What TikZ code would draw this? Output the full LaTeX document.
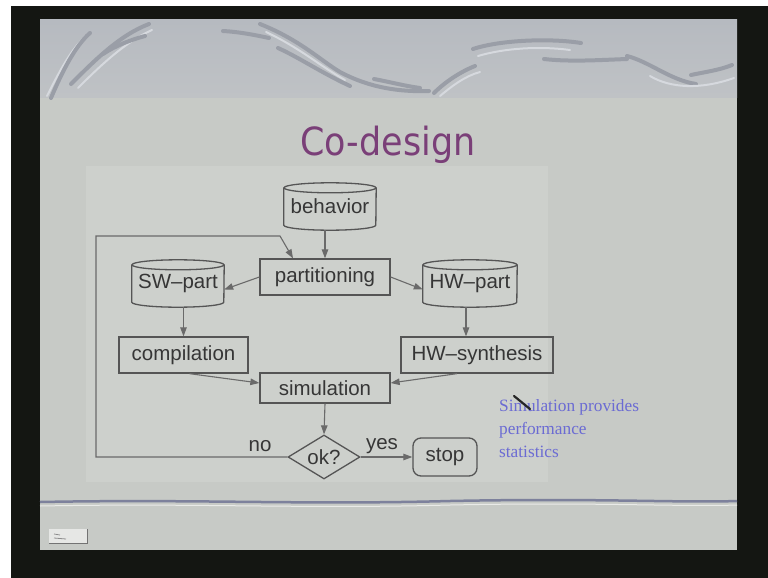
\documentclass[tikz,border=0pt]{standalone}
\usepackage{fontspec}
\setmainfont{Liberation Sans}
\newfontfamily\titlefont[FakeStretch=0.9]{DejaVu Sans}
\newfontfamily\notefont{Liberation Serif}
\usetikzlibrary{shapes.geometric,arrows.meta}
\definecolor{frame}{HTML}{141612}
\definecolor{slidebg}{HTML}{C7CAC6}
\definecolor{headtop}{HTML}{B6BAC0}
\definecolor{headbot}{HTML}{BFC2C5}
\definecolor{panel}{HTML}{CDD0CC}
\definecolor{deco}{HTML}{9A9EA7}
\definecolor{decohi}{HTML}{D6D9DE}
\definecolor{boxline}{HTML}{555555}
\definecolor{txt}{HTML}{363636}
\definecolor{edge}{HTML}{6A6A6A}
\definecolor{titlecol}{HTML}{7A3F78}
\definecolor{notecol}{HTML}{6B6BD3}
\definecolor{bline}{HTML}{7D819C}
\newcommand{\diagfont}{\fontsize{20.5}{24}\selectfont}
\newcommand{\notefontsize}{\notefont\fontsize{17.3}{23.5}\selectfont}
\tikzset{
  diagbox/.style={draw=boxline, line width=1.3pt, text=txt, inner sep=0pt, font=\diagfont},
  cylbox/.style={inner sep=0pt, text=txt, font=\diagfont, minimum height=47pt},
  cylline/.style={draw=boxline, line width=1.3pt},
  conn/.style={draw=edge, line width=1.1pt, -{Triangle[length=9pt,width=6.5pt]}},
  decostroke/.style={draw=deco, line width=4pt, line cap=round},
  decohigh/.style={draw=decohi, line width=2pt, line cap=round},
  lbl/.style={text=txt, font=\diagfont, inner sep=0pt},
  noteline/.style={anchor=base west, text=notecol, inner sep=0pt, font=\notefontsize}
}
\begin{document}
\begin{tikzpicture}[x=1pt,y=-1pt]
\useasboundingbox (0,0) rectangle (768,578);
\fill[white] (0,0) rectangle (768,578);
\fill[frame] (11,6) rectangle (768,578);
\fill[slidebg] (40,20) rectangle (737,550);
\shade[top color=headtop, bottom color=headbot] (40,20) rectangle (737,97);
\fill[panel] (86,166) rectangle (548,482);

% header decoration
\draw[decohigh] (47,96) .. controls (60,70) and (72,48) .. (86,36);
\draw[decostroke] (51,98) .. controls (62,72) and (75,46) .. (90,33);
\draw[decostroke] (71,84) .. controls (95,60) and (120,35) .. (149,24);
\draw[decohigh] (78,88) .. controls (100,66) and (125,42) .. (152,30);
\draw[decostroke] (103,54) .. controls (115,46) and (130,40) .. (145,36);
\draw[decostroke] (223,31) .. controls (240,32) and (255,35) .. (269,38);
\draw[decostroke] (260,24) .. controls (300,40) and (320,60) .. (340,72) .. controls (370,88) and (400,92) .. (429,91);
\draw[decohigh] (266,32) .. controls (300,48) and (320,66) .. (345,80);
\draw[decostroke] (278,48) .. controls (300,58) and (320,72) .. (350,86);
\draw[decostroke] (374,79) .. controls (390,82) and (405,86) .. (420,88);
\draw[decostroke] (434,93) .. controls (445,82) and (460,72) .. (475,66);
\draw[decohigh] (440,96) .. controls (452,86) and (465,76) .. (480,72);
\draw[decostroke] (473,49) .. controls (500,40) and (550,38) .. (581,43);
\draw[decohigh] (478,56) .. controls (505,48) and (540,46) .. (570,50);
\draw[decostroke] (544,59) .. controls (570,62) and (600,60) .. (627,59);
\draw[decostroke] (627,56) .. controls (650,62) and (670,80) .. (696,84);
\draw[decostroke] (691,75) .. controls (705,72) and (720,70) .. (732,65);
\draw[decohigh] (650,76) .. controls (670,88) and (700,90) .. (734,78);

% bottom line and icon
\draw[bline, line width=2.5pt] (40,502) .. controls (200,499) and (300,505) .. (450,501) .. controls (600,498) and (680,503) .. (737,501);
\draw[white!60!slidebg, line width=1pt] (40,506) .. controls (200,503) and (300,509) .. (450,505) .. controls (600,502) and (680,507) .. (737,505);
\fill[white!55!slidebg] (49,529) rectangle (87,543);
\draw[black!55, line width=1pt] (49,543) -- (87,543) -- (87,529);
\draw[black!45, line width=0.8pt] (54,534) -- (60,535) (54,538) -- (66,539);

% title
\node[anchor=base, text=titlecol, font=\titlefont\fontsize{38.8}{44}\selectfont, inner sep=0pt] (title) at (388,155) {Co-design};

% nodes
\node[cylbox, minimum width=92pt] (beh) at (330,206.5) {\raisebox{-5pt}{behavior}};
\node[diagbox, minimum width=130pt, minimum height=36pt] (part) at (325,277) {partitioning};
\node[cylbox, minimum width=92pt] (sw) at (178,283.5) {\raisebox{-5pt}{SW--part}};
\node[cylbox, minimum width=94pt] (hw) at (470,283.5) {\raisebox{-5pt}{HW--part}};
\node[diagbox, minimum width=129pt, minimum height=36pt] (comp) at (183.5,355) {compilation};
\node[diagbox, minimum width=152pt, minimum height=36pt] (hws) at (477,355) {HW--synthesis};
\node[diagbox, minimum width=130pt, minimum height=30pt] (sim) at (325,388) {simulation};
\node[diagbox, diamond, aspect=1.6, minimum width=72pt, minimum height=44pt] (ok) at (324,457) {ok?};
\node[diagbox, rounded corners=8pt, minimum width=64pt, minimum height=38pt] (stop) at (445,457) {stop};

% cylinder outlines
\foreach \n/\r in {beh/46, sw/46, hw/47} {
  \draw[cylline] ([yshift=-5pt]\n.north) ellipse [x radius=\r pt, y radius=5pt];
  \draw[cylline] ([yshift=-5pt]\n.north west) -- ([yshift=5pt]\n.south west)
     arc [start angle=180, end angle=360, x radius=\r pt, y radius=5pt]
     -- ([yshift=-5pt]\n.north east);
}

% connectors
\draw[conn] (part.north |- beh.south) -- (part.north);
\draw[conn] (part.west) -- ([yshift=-6pt]sw.east);
\draw[conn] (part.east) -- ([yshift=-6pt]hw.west);
\draw[conn] (comp.north |- sw.south) -- (comp.north);
\draw[conn] ([xshift=-4pt]hw.south) -- ([xshift=-4pt]hw.south |- hws.north);
\draw[conn] ([xshift=6pt]comp.south) -- ([yshift=5pt]sim.west);
\draw[conn] ([xshift=-20pt]hws.south) -- ([yshift=5pt]sim.east);
\draw[conn] (sim.south) -- (ok.north);
\draw[conn] (ok.east) -- (stop.west);
\coordinate (lb) at (96,457);
\coordinate (lt) at (96,236);
\coordinate (lk) at (280,236);
\draw[conn] (ok.west) -- (lb) -- (lt) -- (lk) -- ([xshift=-32pt]part.north);
\node[lbl] (no) at (260,446) {no};
\node[lbl] (yes) at (382,446) {yes};

% note
\node[noteline] (note1) at (499,411) {Simulation provides};
\node[noteline] (note2) at (499,434) {performance};
\node[noteline] (note3) at (499,457) {statistics};
\draw[black!85, line width=2.2pt, line cap=round] (514,396) -- (530,409);
\end{tikzpicture}
\end{document}
